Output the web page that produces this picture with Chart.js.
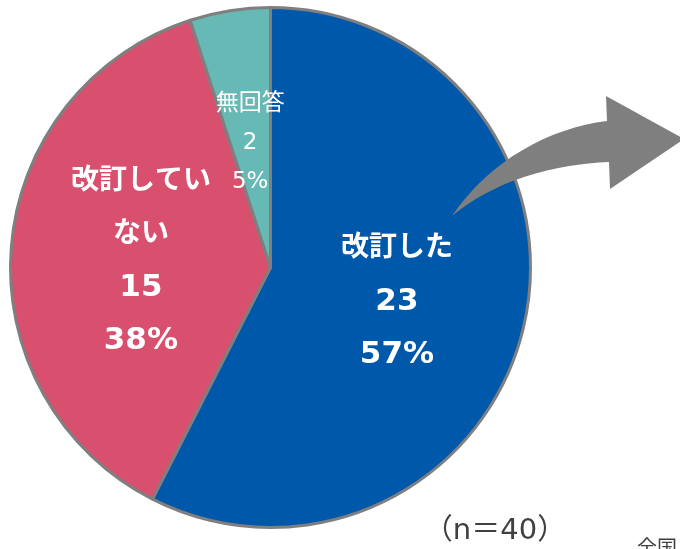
<!DOCTYPE html>
<html>
<head>
<meta charset="utf-8">
<script src="https://cdn.jsdelivr.net/npm/chart.js@4/dist/chart.umd.min.js"></script>
<style>
  html, body { margin: 0; padding: 0; background: #fff; }
  #wrap { position: relative; width: 680px; height: 549px; }
</style>
</head>
<body>
<div id="wrap"><canvas id="pie"></canvas></div>
<script>
// chart data
const categories = ['改訂した', '改訂していない', '無回答'];
const counts = [23, 15, 2];
const percentLabels = ['57%', '38%', '5%'];
// how each category name is wrapped inside its slice
const nameLines = [['改訂した'], ['改訂してい', 'ない'], ['無回答']];
const sliceColors = ['#0058AA', '#D94F6E', '#67B9B5'];
const sampleNote = '（n＝40）';

const FONT = '"DejaVu Sans", "Noto Sans CJK JP", sans-serif';

// labels in the middle of each slice
const sliceLabels = {
    id: 'sliceLabels',
    afterDatasetsDraw(chart) {
        const ctx = chart.ctx;
        const arcs = chart.getDatasetMeta(0).data;
        ctx.save();
        ctx.fillStyle = '#ffffff';
        ctx.textAlign = 'center';
        ctx.textBaseline = 'middle';
        arcs.forEach((arc, i) => {
            const pos = arc.tooltipPosition();
            const names = nameLines[i];
            const lines = names.concat([String(counts[i]), percentLabels[i]]);
            const small = i === 2;
            const lineH = small ? 39 : 53;
            const top = pos.y + 4 - (lines.length - 1) * lineH / 2;
            lines.forEach((t, k) => {
                const isName = k < names.length;
                if (small) ctx.font = '23px ' + FONT;
                else ctx.font = 'bold ' + (isName ? 28 : 31) + 'px ' + FONT;
                ctx.fillText(t, pos.x, top + k * lineH);
            });
        });
        ctx.restore();
    }
};

// decorative arrow + notes
const extras = {
    id: 'extras',
    afterDraw(chart) {
        const ctx = chart.ctx;
        ctx.save();
        ctx.fillStyle = '#7F7F7F';
        ctx.beginPath();
        ctx.moveTo(452, 216);
        ctx.bezierCurveTo(490, 160, 550, 128, 607, 121);
        ctx.lineTo(606, 96);
        ctx.lineTo(684, 139);
        ctx.lineTo(610, 189);
        ctx.lineTo(609, 162);
        ctx.bezierCurveTo(555, 164, 495, 180, 452, 216);
        ctx.closePath();
        ctx.fill();

        ctx.fillStyle = '#404040';
        ctx.textAlign = 'center';
        ctx.textBaseline = 'middle';
        ctx.font = '29px ' + FONT;
        ctx.fillText(sampleNote, 495, 531);
        ctx.textAlign = 'left';
        ctx.textBaseline = 'top';
        ctx.font = '20px "Noto Sans CJK JP", sans-serif';
        ctx.fillText('全国', 637, 537);
        ctx.restore();
    }
};

new Chart(document.getElementById('pie'), {
    type: 'pie',
    data: {
        labels: categories,
        datasets: [{
            data: counts,
            backgroundColor: sliceColors,
            borderColor: '#7F7F7F',
            borderWidth: 3
        }]
    },
    options: {
        responsive: true,
        maintainAspectRatio: false,
        animation: false,
        layout: {
            padding: { left: 9, top: 6, right: 148, bottom: 20 }
        },
        plugins: {
            legend: { display: false },
            tooltip: { enabled: false }
        }
    },
    plugins: [sliceLabels, extras]
});
</script>
</body>
</html>
